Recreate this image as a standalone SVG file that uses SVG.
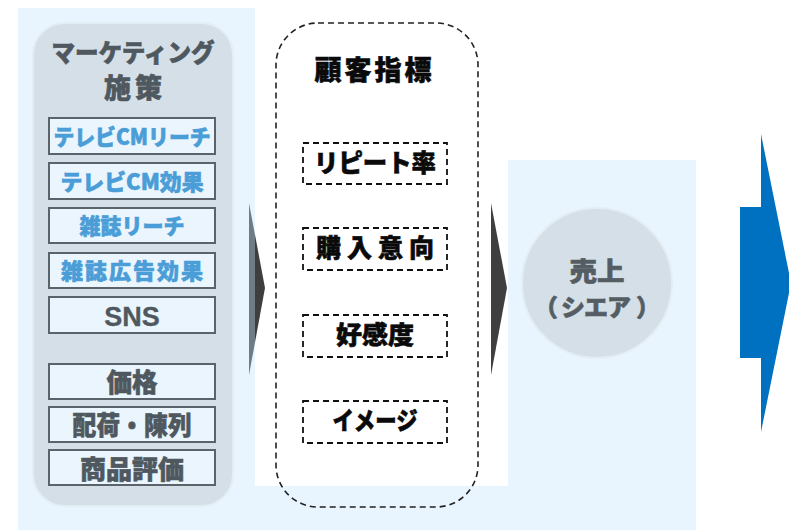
<svg xmlns="http://www.w3.org/2000/svg" width="789" height="530" viewBox="0 0 789 530">
<defs>
<style>
text{font-family:"Noto Sans CJK JP","Liberation Sans",sans-serif;font-weight:900;text-anchor:middle;stroke-width:0.6}
.bg{fill:#E9F5FE}
.panel{fill:#D4DFE7;stroke:#E3EDF4;stroke-width:2}
.mbox{fill:#EAF5FD;stroke:#5A6369;stroke-width:2}
.blue{fill:#4A9DD7;stroke:#4A9DD7;font-size:22px}
.gray{fill:#4F585E;stroke:#4F585E;font-size:26px}
.title{fill:#4F585E;stroke:#4F585E;font-size:25px}
.dash{fill:none;stroke:#222;stroke-width:1.6;stroke-dasharray:6 4}
.dashbox{fill:#fff;stroke:#111;stroke-width:1.8;stroke-dasharray:6 4}
.kpi{fill:#0A0A0A;stroke:#0A0A0A;font-size:25px}
.circ{fill:#D4DFE7;stroke:#E4EDF4;stroke-width:2}
.ctext{fill:#545D63;stroke:#545D63;font-size:26px}
</style>
<linearGradient id="ag" x1="0" y1="0" x2="1" y2="0">
<stop offset="0" stop-color="#6E7C86"/>
<stop offset="0.35" stop-color="#6E7C86"/>
<stop offset="0.36" stop-color="#3E3E3E"/>
<stop offset="1" stop-color="#3E3E3E"/>
</linearGradient>
</defs>
<rect width="789" height="530" fill="#fff"/>
<g id="background">
<rect class="bg" x="18" y="8" width="237" height="522"/>
<rect class="bg" x="18" y="486" width="678" height="44"/>
<rect class="bg" x="508" y="160" width="188" height="370"/>
</g>
<g id="marketing">
<rect class="panel" x="33" y="23" width="200" height="483" rx="32"/>
<text class="title" x="133" y="62" textLength="163" lengthAdjust="spacingAndGlyphs">マーケティング</text>
<text class="title" x="133" y="98" textLength="58" style="font-size:27px">施策</text>
</g>
<g id="m1"><rect class="mbox" x="49" y="118" width="166" height="36"/><text class="blue" x="132" y="145" textLength="157" lengthAdjust="spacingAndGlyphs">テレビCMリーチ</text></g>
<g id="m2"><rect class="mbox" x="49" y="163" width="166" height="36"/><text class="blue" x="132" y="190" textLength="143" lengthAdjust="spacingAndGlyphs">テレビCM効果</text></g>
<g id="m3"><rect class="mbox" x="49" y="208" width="166" height="35"/><text class="blue" x="132" y="234" textLength="105" lengthAdjust="spacingAndGlyphs">雑誌リーチ</text></g>
<g id="m4"><rect class="mbox" x="49" y="253" width="166" height="35"/><text class="blue" x="132" y="279" textLength="142">雑誌広告効果</text></g>
<g id="m5"><rect class="mbox" x="49" y="297" width="166" height="36"/><text class="gray" x="132" y="326" style="font-family:'Liberation Sans',sans-serif;font-weight:bold;font-size:27px;stroke-width:0.3">SNS</text></g>
<g id="m6"><rect class="mbox" x="49" y="364" width="166" height="35"/><text class="gray" x="132" y="392" textLength="51" lengthAdjust="spacingAndGlyphs">価格</text></g>
<g id="m7"><rect class="mbox" x="49" y="407" width="166" height="35"/><text class="gray" x="132" y="435" textLength="119" lengthAdjust="spacingAndGlyphs">配荷・陳列</text></g>
<g id="m8"><rect class="mbox" x="49" y="450" width="166" height="35"/><text class="gray" x="132" y="479" textLength="104" lengthAdjust="spacingAndGlyphs">商品評価</text></g>
<g id="customer">
<rect class="dash" x="276" y="23" width="202" height="484" rx="42"/>
<text class="kpi" x="373" y="80" textLength="117" style="font-size:27px">顧客指標</text>
</g>
<g id="k1"><rect class="dashbox" x="303" y="143" width="144" height="41"/><text class="kpi" x="375" y="172" textLength="122" lengthAdjust="spacingAndGlyphs">リピート率</text></g>
<g id="k2"><rect class="dashbox" x="303" y="228" width="144" height="42"/><text class="kpi" x="375" y="257" textLength="118">購入意向</text></g>
<g id="k3"><rect class="dashbox" x="303" y="315" width="144" height="42"/><text class="kpi" x="375" y="344" textLength="78" lengthAdjust="spacingAndGlyphs">好感度</text></g>
<g id="k4"><rect class="dashbox" x="303" y="401" width="144" height="42"/><text class="kpi" x="375" y="430" textLength="85" lengthAdjust="spacingAndGlyphs">イメージ</text></g>
<g id="sales">
<circle class="circ" cx="597" cy="283" r="75"/>
<text class="ctext" x="597" y="281" textLength="55" lengthAdjust="spacingAndGlyphs">売上</text>
<text class="ctext" x="546 573 596 619 648" y="316" style="font-size:24px">（シエア）</text>
</g>
<g id="connectors">
<polygon points="249,203 265,288 249,375" fill="url(#ag)"/>
<polygon points="491,203 507,288 491,375" fill="#3F3F3F"/>
<polygon points="740,207 761,207 761,134 791,283 761,432 761,358 740,358" fill="#0070C0"/>
</g>
</svg>
